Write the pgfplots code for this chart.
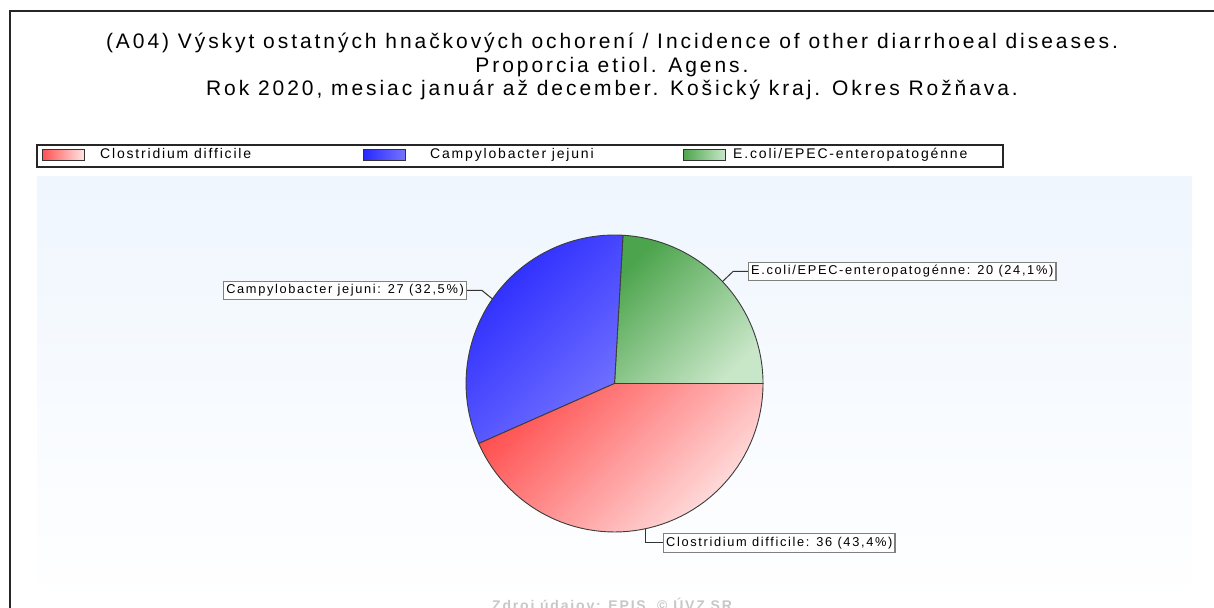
\documentclass[border=0pt]{standalone}
\usepackage{pgfplots}
\pgfplotsset{compat=1.18}
\usepackage{fontspec}
\setmainfont{Liberation Sans}[LetterSpace=13]
\newfontfamily\titlefont{Liberation Sans}[LetterSpace=14]
\definecolor{bgtop}{RGB}{239,246,254}
\definecolor{redD}{RGB}{255,80,80}
\definecolor{redL}{RGB}{255,228,228}
\definecolor{bluD}{RGB}{40,40,255}
\definecolor{bluL}{RGB}{115,115,255}
\definecolor{grnD}{RGB}{76,164,76}
\definecolor{grnL}{RGB}{200,230,200}
\definecolor{edge}{RGB}{60,60,60}
\def\vClos{36}\def\vCamp{27}\def\vEcoli{20}
\tikzset{lbl/.style={draw=gray, line width=1.3bp, fill=white, inner xsep=2.5bp, inner ysep=3bp,
    text height=9.5bp, text depth=3bp, font=\fontsize{12.8bp}{14bp}\selectfont},
  conn/.style={draw=black!80, line width=1bp},
  sw/.style={draw=black!80, line width=1bp}}
\begin{document}
\begin{tikzpicture}[x=1bp,y=1bp]
\useasboundingbox (0,0) rectangle (1214,608);
\fill[white] (0,0) rectangle (1214,608);
\shade[top color=bgtop, bottom color=white] (37,0) rectangle (1192,431);
\draw[line width=2bp, black!85] (10,-32) -- (10,597) -- (1240,597);
\begin{scope}[every node/.style={font=\titlefont\fontsize{21bp}{24bp}\selectfont, anchor=base}]
\node at (612,559) {(A04) Výskyt ostatných hnačkových ochorení / Incidence of other diarrhoeal diseases.};
\node at (612,535.5) {Proporcia etiol. Agens.};
\node at (612,512) {Rok 2020, mesiac január až december. Košický kraj. Okres Rožňava.};
\end{scope}
% legend
\draw[line width=1.4bp, black!85, fill=white] (37,441) rectangle (1003,463);
\shade[sw, left color=redD, right color=redL] (42,447) rectangle (84,458);
\shade[sw, left color=bluD, right color=bluL] (363,447) rectangle (405,458);
\shade[sw, left color=grnD, right color=grnL] (683,447) rectangle (725,458);
\begin{scope}[every node/.style={font=\fontsize{14bp}{16bp}\selectfont, anchor=base west, inner sep=0pt}]
\node at (100,449.5) {Clostridium difficile};
\node at (430,449.5) {Campylobacter jejuni};
\node at (733,449.5) {E.coli/EPEC-enteropatogénne};
\end{scope}
\node[text=black!22, font=\fontsize{14bp}{16bp}\selectfont\bfseries, anchor=base] at (612,-3) {Zdroj údajov: EPIS, © ÚVZ SR};
\pgfmathsetmacro\tot{\vClos+\vCamp+\vEcoli}
\pgfmathsetmacro\aE{360*\vEcoli/\tot}
\pgfmathsetmacro\aB{\aE+360*\vCamp/\tot}
\pgfmathsetmacro\mE{\aE/2}
\pgfmathsetmacro\mB{(\aE+\aB)/2}
\pgfmathsetmacro\mC{(\aB+360)/2}
\begin{axis}[at={(37bp,0bp)}, anchor=south west, width=1155bp, height=431bp,
  scale only axis, xmin=-3.8889, xmax=3.8889, ymin=-1.5118, ymax=1.3906,
  hide axis, clip=false]
\addplot[forget plot, draw=edge, line width=0.9bp, top color=grnD, bottom color=grnL,
  shading angle=45, domain=0:\aE, samples=40, variable=\t]
  ({cos(\t)},{sin(\t)}) -- (axis cs:0,0) -- cycle;
\addplot[forget plot, draw=edge, line width=0.9bp, top color=bluD, bottom color=bluL,
  shading angle=45, domain=\aE:\aB, samples=50, variable=\t]
  ({cos(\t)},{sin(\t)}) -- (axis cs:0,0) -- cycle;
\addplot[forget plot, draw=edge, line width=0.9bp, top color=redD, bottom color=redL,
  shading angle=45, domain=\aB:360, samples=60, variable=\t]
  ({cos(\t)},{sin(\t)}) -- (axis cs:0,0) -- cycle;
\draw[conn] (axis cs:{cos(\mB)},{sin(\mB)}) -- (axis cs:-0.8923,0.6263) -- (axis cs:-0.9933,0.6263);
\node[lbl, anchor=east] at (axis cs:-0.9933,0.6263) {Campylobacter jejuni: 27 (32,5\%)};
\draw[conn] (axis cs:{cos(\mE)},{sin(\mE)}) -- (axis cs:0.7980,0.7542) -- (axis cs:0.8990,0.7542);
\node[lbl, anchor=west] at (axis cs:0.8990,0.7542) {E.coli/EPEC-enteropatogénne: 20 (24,1\%)};
\draw[conn] (axis cs:{cos(\mC)},{sin(\mC)}) -- (axis cs:{cos(\mC)},-1.0741) -- (axis cs:0.3266,-1.0741);
\node[lbl, anchor=west] at (axis cs:0.3266,-1.0741) {Clostridium difficile: 36 (43,4\%)};
\end{axis}
\end{tikzpicture}
\end{document}
